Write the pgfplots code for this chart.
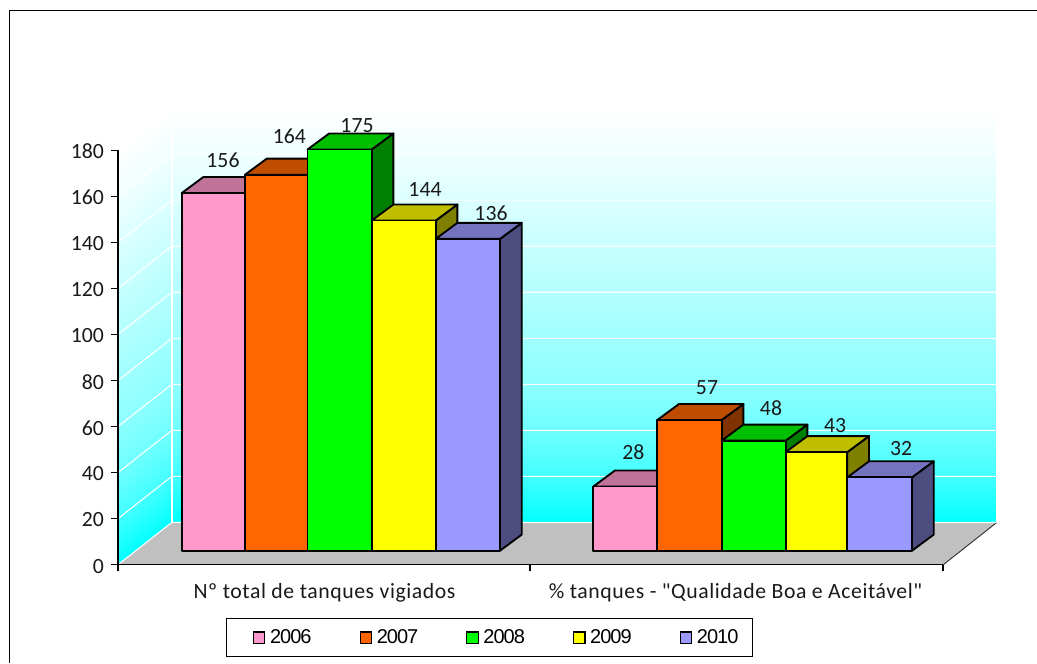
\documentclass[border=0pt]{standalone}
\usepackage{fontspec}
\usepackage{pgfplots}
\pgfplotsset{compat=1.18}
\setmainfont{Carlito}
\newfontfamily\legfont[LetterSpace=-5]{Liberation Sans}
\newfontfamily\catfont[LetterSpace=2.6]{Carlito}
\definecolor{pinkF}{HTML}{FF99CC}\definecolor{pinkT}{HTML}{BF7399}\definecolor{pinkS}{HTML}{804D66}
\definecolor{oranF}{HTML}{FF6600}\definecolor{oranT}{HTML}{BF4D00}\definecolor{oranS}{HTML}{803300}
\definecolor{greeF}{HTML}{00FF00}\definecolor{greeT}{HTML}{00BF00}\definecolor{greeS}{HTML}{008000}
\definecolor{yellF}{HTML}{FFFF00}\definecolor{yellT}{HTML}{BFBF00}\definecolor{yellS}{HTML}{808000}
\definecolor{purpF}{HTML}{9999FF}\definecolor{purpT}{HTML}{7373BF}\definecolor{purpS}{HTML}{4D4D80}
\definecolor{floorc}{HTML}{C0C0C0}
% one 3-D bar: x-left, x-right, value, colour stem
\newcommand{\threedbar}[4]{%
  \pgfmathsetmacro{\xb}{#2+21.7}%
  \pgfmathsetmacro{\xc}{#1+21.7}%
  \pgfmathsetmacro{\vb}{#3+7}%
  \addplot[forget plot,fill=#4S,draw=black,line width=1.4pt,line join=round] coordinates {(#2,0)(\xb,7)(\xb,\vb)(#2,#3)} --cycle;
  \addplot[forget plot,fill=#4T,draw=black,line width=1.4pt,line join=round] coordinates {(#1,#3)(\xc,\vb)(\xb,\vb)(#2,#3)} --cycle;
  \addplot[forget plot,fill=#4F,draw=black,line width=1.4pt,line join=round] coordinates {(#1,0)(#1,#3)(#2,#3)(#2,0)} --cycle;
}
\newcommand{\lab}[3]{\node[inner sep=0pt,font=\fontsize{16.3}{18}\selectfont,text=black!90] at (#1*0.75pt,{(663-#2)*0.75pt}) {#3};}
\begin{document}
\begin{tikzpicture}
\path[use as bounding box] (0,0) rectangle (777.75pt,497.25pt);
% chart frame
\draw[black,line width=0.9pt] (7.2pt,0) -- (7.2pt,489.4pt) -- (777.75pt,489.4pt);
\begin{axis}[
  at={(88.5pt,73.725pt)},anchor=south west,scale only axis,
  width=618.75pt,height=310.8pt,
  xmin=118,xmax=943,ymin=0,ymax=180,clip=false,
  axis x line=bottom,axis y line=left,axis line style={-,black,line width=0.8pt},
  axis on top=true,
  ytick={0,20,...,180},
  xtick={118,530,943},xticklabels={,,},
  extra x ticks={324.5,735.5},
  extra x tick labels={Nº total de tanques vigiados,\% tanques - \symbol{34}Qualidade Boa e Aceitável\symbol{34}},
  extra x tick style={major tick length=0pt,tick style={draw=none},xticklabel style={font=\fontsize{16.3}{18}\selectfont\catfont,yshift=-10.5pt}},
  tick style={black,line width=0.8pt},
  major tick length=5pt,
  tick align=outside,
  ticklabel style={font=\fontsize{16.3}{18}\selectfont,text=black!90},
  yticklabel style={/pgf/number format/assume math mode=true,xshift=-2pt,yshift=-1pt},
  colormap={wall}{rgb255(0cm)=(0,255,255);rgb255(11cm)=(66,255,255);rgb255(22cm)=(110,255,255);rgb255(33cm)=(140,255,255);rgb255(50cm)=(170,255,255);rgb255(67cm)=(200,255,255);rgb255(89cm)=(240,255,255);rgb255(100cm)=(255,255,255)},
  point meta min=0,point meta max=1,
]
% back wall
\addplot[patch,shader=interp,point meta=explicit,forget plot] coordinates {
 (171.7,18.33)[0] (996.7,18.33)[0] (996.7,198.2)[1]
 (171.7,18.33)[0] (996.7,198.2)[1] (171.7,198.2)[1]};
% left wall
\addplot[patch,shader=interp,point meta=explicit,forget plot] coordinates {
 (118,0)[0] (171.7,18.33)[0] (171.7,198.2)[1]
 (118,0)[0] (171.7,198.2)[1] (118,180)[1]};
% floor
\addplot[forget plot,fill=floorc,draw=none] coordinates {(118,0)(943.3,0)(996.7,18.33)(171.7,18.33)} --cycle;
\addplot[forget plot,black!80,line width=0.7pt] coordinates {(943.3,0)(996.7,18.33)};
% gridlines
\pgfplotsinvokeforeach{0,20,...,160}{
  \addplot[forget plot,white,line width=0.8pt] coordinates {(118,#1)(171.7,{#1+18.33})(996.7,{#1+18.33})};
}
\addplot[forget plot,white,line width=1.2pt] coordinates {(171.7,18.33)(171.7,198.2)};
\addplot[forget plot,white,line width=0.8pt] coordinates {(996.7,18.33)(996.7,198.2)};
\end{axis}
\begin{axis}[
  at={(88.5pt,84.225pt)},anchor=south west,scale only axis,
  width=618.75pt,height=309.5pt,
  xmin=118,xmax=943,ymin=0,ymax=180,clip=false,hide axis,
  legend columns=5,
  legend image code/.code={\draw[#1,draw=black,line width=0.9pt] (0pt,-4.2pt) rectangle (8.5pt,4.2pt);},
  legend style={at={(axis cs:225.7,-29.5)},anchor=north west,draw=black,line width=0.8pt,
    font=\fontsize{15}{17}\selectfont\legfont,inner xsep=20pt,inner ysep=6pt,
    /tikz/every even column/.style={column sep=34pt},
    /tikz/every odd column/.style={column sep=1.5pt},
    nodes={inner sep=2pt}},
  legend entries={2006,2007,2008,2009,2010\hspace*{-11.5pt}},
]
\addlegendimage{fill=pinkF}
\addlegendimage{fill=oranF}
\addlegendimage{fill=greeF}
\addlegendimage{fill=yellF}
\addlegendimage{fill=purpF}
\threedbar{181.7}{245}{156}{pink}
\threedbar{245}{307.5}{164}{oran}
\threedbar{307.5}{371.7}{175}{gree}
\threedbar{371.7}{435.7}{144}{yell}
\threedbar{435.7}{500}{136}{purp}
\threedbar{593.3}{657.3}{28}{pink}
\threedbar{657.3}{721.7}{57}{oran}
\threedbar{721.7}{785.7}{48}{gree}
\threedbar{785.7}{847.3}{43}{yell}
\threedbar{847.3}{912}{32}{purp}
\end{axis}
\lab{223}{160}{156}
\lab{289.3}{136}{164}
\lab{357}{125.7}{175}
\lab{425}{189.3}{144}
\lab{491}{213.3}{136}
\lab{633.3}{452}{28}
\lab{707}{388}{57}
\lab{771}{408}{48}
\lab{835}{426}{43}
\lab{901}{448.3}{32}
\end{tikzpicture}
\end{document}
